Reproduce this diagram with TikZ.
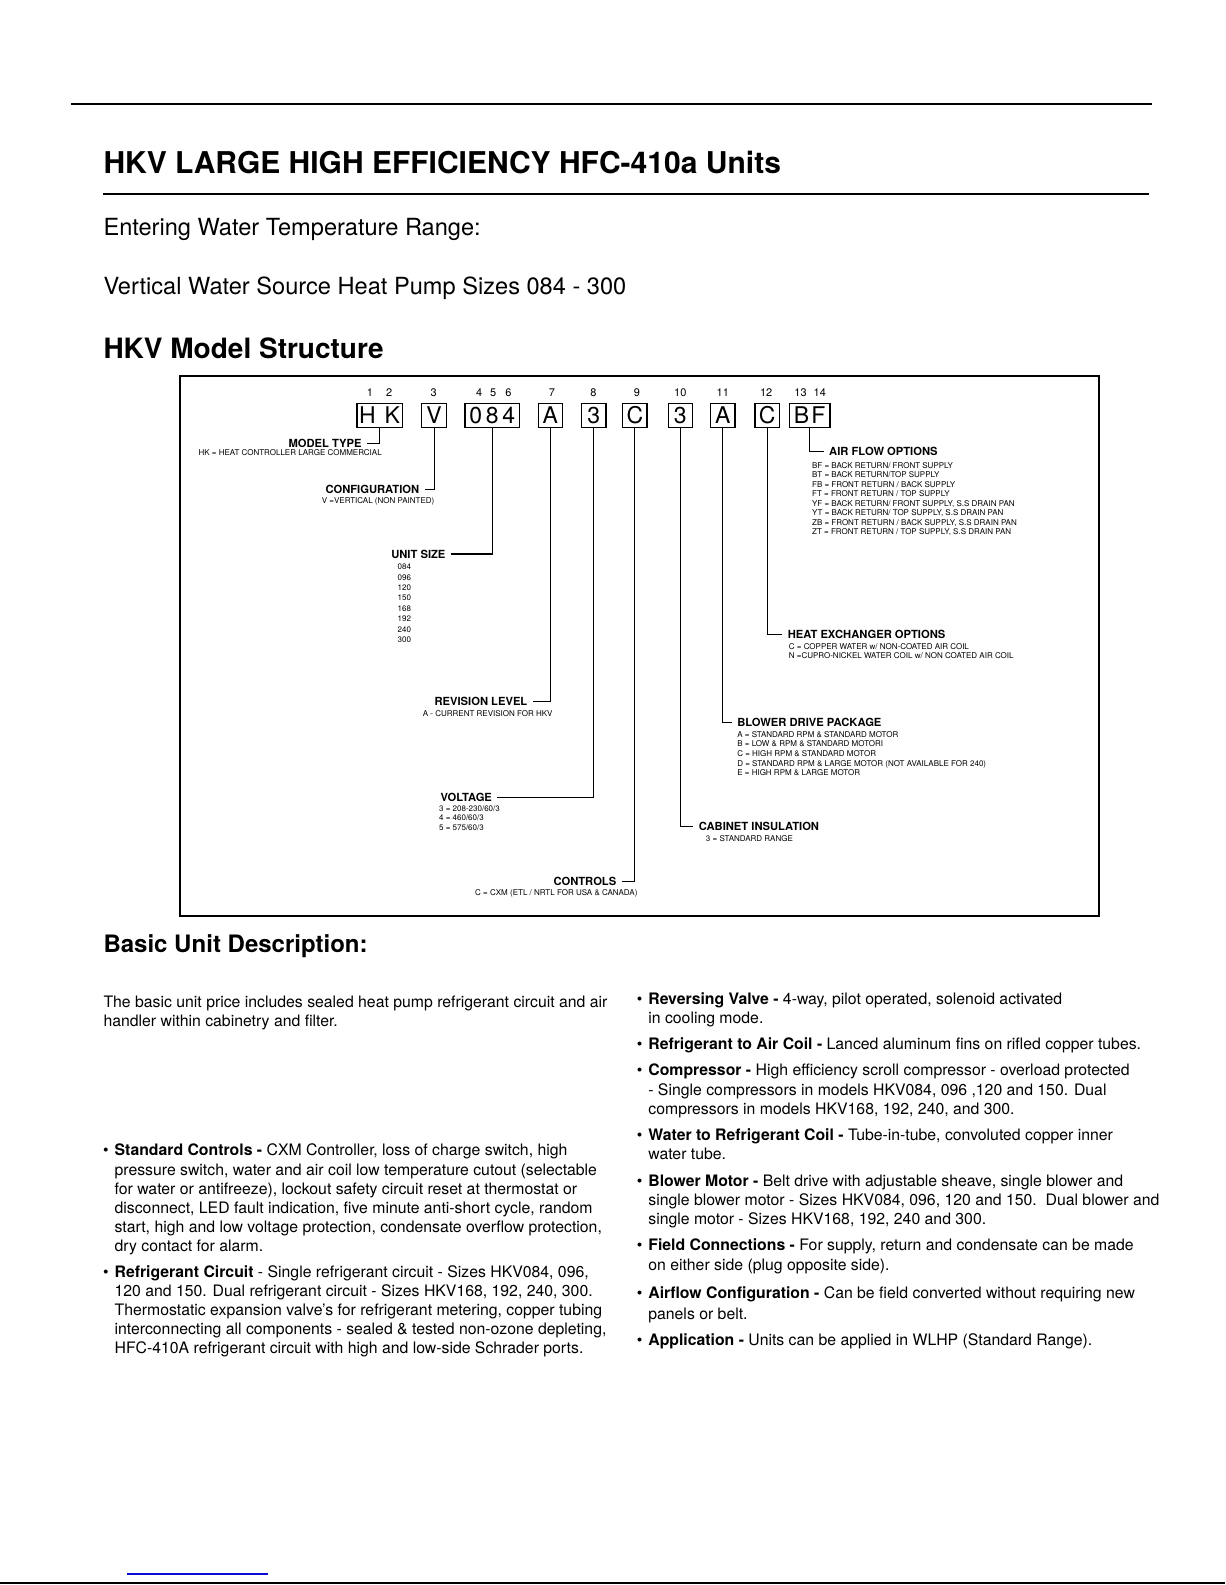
\documentclass[tikz,border=0pt]{standalone}
\usepackage{fontspec}
\setmainfont{TeX Gyre Heros}
\usepackage{graphicx}
\usepackage{xcolor}
\usepackage{tikz}
\definecolor{linkblue}{RGB}{10,10,210}
\newcommand{\fsz}[2]{\fontsize{#1}{#2}\selectfont}
\newcommand{\bulletmark}{\llap{\textbullet\hspace{3pt}}}
\newcommand{\kgap}{\hspace{1.8pt}}

\begin{document}
\begin{tikzpicture}[x=0.50536pt,y=-0.50536pt]
\tikzstyle{every node}=[inner sep=0pt]
\tikzstyle{codebox}=[draw,line width=0.7pt,minimum width=12.1pt,minimum height=12.1pt,text height=8.3pt,text depth=0pt,font=\fsz{11.5}{13}]
\tikzstyle{posnum}=[font=\fsz{5.5}{6},text height=4pt,text depth=0pt]
\tikzstyle{lbl}=[font=\bfseries\fsz{5.6}{6},inner xsep=2.5pt]
\tikzstyle{sub}=[font=\fsz{4}{4.8},align=left]
\tikzstyle{lead}=[line width=0.6pt]
\tikzstyle{body}=[font=\fsz{7.9}{9.6},align=left,anchor=north west]
\useasboundingbox (0,0) rectangle (1212,1568);

% page head
\draw[line width=1.2pt] (70,103) -- (1140,103);
\node[anchor=base west,font=\bfseries\fsz{15}{18}] (title) at (102,172) {HKV LARGE HIGH EFFICIENCY HFC-410a Units};
\draw[line width=0.8pt] (102,192) -- (1137,192);
\node[anchor=base west,font=\fsz{11.8}{14}] (ewt) at (102,233) {Entering Water Temperature Range:};
\node[anchor=base west,font=\fsz{11.8}{14}] (sizes) at (102,291) {Vertical Water Source Heat Pump Sizes 084 - 300};
\node[anchor=base west,font=\bfseries\fsz{14}{17}] (mshead) at (102,355) {HKV Model Structure};

% model number frame
\draw[line width=1pt] (178,372) rectangle (1087,906);
\node[posnum] (n1) at (366,388) {1}; \node[posnum] (n2) at (385,388) {2};
\node[posnum] (n3) at (429,388) {3};
\node[posnum] (n4) at (474,388) {4}; \node[posnum] (n5) at (488,388) {5}; \node[posnum] (n6) at (503,388) {6};
\node[posnum] (n7) at (546,388) {7}; \node[posnum] (n8) at (587,388) {8};
\node[posnum] (n9) at (630,388) {9}; \node[posnum] (n10) at (673,388) {10};
\node[posnum] (n11) at (715,388) {11}; \node[posnum] (n12) at (758,388) {12};
\node[posnum] (n13) at (792,388) {13}; \node[posnum] (n14) at (811,388) {14};

\node[codebox,minimum width=22.7pt] (hk) at (375.5,411) {H\hspace{4.5pt}K};
\node[codebox,minimum width=12.6pt] (cfg) at (429.5,411) {V};
\node[codebox,minimum width=27.3pt] (usize) at (487,411) {0\kgap 8\kgap 4};
\node[codebox] (rev) at (544.5,411) {A};
\node[codebox] (volt) at (587.5,411) {3};
\node[codebox] (ctrl) at (628,411) {C};
\node[codebox] (cab) at (673,411) {3};
\node[codebox] (blow) at (715,411) {A};
\node[codebox] (hx) at (759,411) {C};
\node[codebox,minimum width=20.2pt] (air) at (801,411) {B\hspace{1.1pt}F};

% left hand labels
\node[lbl,anchor=east] (mtype) at (363,439) {MODEL TYPE};
\node[sub,anchor=base east] (mtypesub) at (378,451) {HK = HEAT CONTROLLER LARGE COMMERCIAL};
\node[lbl,anchor=east] (config) at (420,484) {CONFIGURATION};
\node[sub,anchor=base west] (configsub) at (318,498) {V =VERTICAL (NON PAINTED)};
\node[lbl,anchor=east] (unitsz) at (446,548) {UNIT SIZE};
\node[sub,font=\fsz{4}{5.2},anchor=north west] (unitszsub) at (393,556) {\strut 084\\096\\120\\150\\168\\192\\240\\300};
\node[lbl,anchor=east] (revlvl) at (527,694) {REVISION LEVEL};
\node[sub,anchor=base west] (revlvlsub) at (418,709) {A - CURRENT REVISION FOR HKV};
\node[lbl,anchor=east] (voltage) at (492,789) {VOLTAGE};
\node[sub,anchor=north west] (voltagesub) at (434,795.3) {\strut 3 = 208-230/60/3\\4 = 460/60/3\\5 = 575/60/3};
\node[lbl,anchor=east] (controls) at (615,872) {CONTROLS};
\node[sub,anchor=base east] (controlssub) at (631,886) {C = CXM (ETL / NRTL FOR USA \& CANADA)};

% right hand labels
\node[lbl,anchor=west] (cabins) at (686,817.5) {CABINET INSULATION};
\node[sub,anchor=base west] (cabinssub) at (698,832) {3 = STANDARD RANGE};
\node[lbl,anchor=west] (blower) at (724,715) {BLOWER DRIVE PACKAGE};
\node[sub,anchor=north west] (blowersub) at (729,722.3) {\strut A = STANDARD RPM \& STANDARD MOTOR\\B = LOW \& RPM \& STANDARD MOTORI\\C = HIGH RPM \& STANDARD MOTOR\\D = STANDARD RPM \& LARGE MOTOR (NOT AVAILABLE FOR 240)\\E = HIGH RPM \& LARGE MOTOR};
\node[lbl,anchor=west] (heatx) at (774,628) {HEAT EXCHANGER OPTIONS};
\node[sub,anchor=north west] (heatxsub) at (780,635.3) {\strut C = COPPER WATER w/ NON-COATED AIR COIL\\N =CUPRO-NICKEL WATER COIL w/ NON COATED AIR COIL};
\node[lbl,anchor=west] (airflow) at (815,447) {AIR FLOW OPTIONS};
\node[sub,font=\fsz{4}{4.75},anchor=north west] (airflowsub) at (803,456.3) {\strut BF = BACK RETURN/ FRONT SUPPLY\\BT = BACK RETURN/TOP SUPPLY\\FB = FRONT RETURN / BACK SUPPLY\\FT = FRONT RETURN / TOP SUPPLY\\YF = BACK RETURN/ FRONT SUPPLY, S.S DRAIN PAN\\YT = BACK RETURN/ TOP SUPPLY, S.S DRAIN PAN\\ZB = FRONT RETURN / BACK SUPPLY, S.S DRAIN PAN\\ZT = FRONT RETURN / TOP SUPPLY, S.S DRAIN PAN};

% leaders
\draw[lead] (hk.south) |- (mtype.east);
\draw[lead] (cfg.south) |- (config.east);
\draw[lead] (usize.south) |- (unitsz.east);
\draw[lead] (rev.south) |- (revlvl.east);
\draw[lead] (volt.south) |- (voltage.east);
\draw[lead] (ctrl.south) |- (controls.east);
\draw[lead] (cab.south) |- (cabins.west);
\draw[lead] (blow.south) |- (blower.west);
\draw[lead] (hx.south) |- (heatx.west);
\draw[lead] (air.south) |- (airflow.west);

% description
\node[anchor=base west,font=\bfseries\fsz{12}{14}] (bud) at (102,942) {Basic Unit Description:};
\node[body] (intro) at (102,982.7) {\strut The basic unit price includes sealed heat pump refrigerant circuit and air\\handler within cabinetry and filter.};
\node[body] (stdctl) at (113,1129.7) {\strut\bulletmark\textbf{Standard Controls -} CXM Controller, loss of charge switch, high\\
pressure switch, water and air coil low temperature cutout (selectable\\
for water or antifreeze), lockout safety circuit reset at thermostat or\\
disconnect, LED fault indication, five minute anti-short cycle, random\\
start, high and low voltage protection, condensate overflow protection,\\
dry contact for alarm.};
\node[body] (refcirc) at (113,1249.7) {\strut\bulletmark\textbf{Refrigerant Circuit} - Single refrigerant circuit - Sizes HKV084, 096,\\
120 and 150. Dual refrigerant circuit - Sizes HKV168, 192, 240, 300.\\
Thermostatic expansion valve’s for refrigerant metering, copper tubing\\
interconnecting all components - sealed \& tested non-ozone depleting,\\
HFC-410A refrigerant circuit with high and low-side Schrader ports.};
\node[body] (revvalve) at (641,979.7) {\strut\bulletmark\textbf{Reversing Valve -} 4-way, pilot operated, solenoid activated\\in cooling mode.};
\node[body] (aircoil) at (641,1024.7) {\strut\bulletmark\textbf{Refrigerant to Air Coil -} Lanced aluminum fins on rifled copper tubes.};
\node[body] (comp) at (641,1050.7) {\strut\bulletmark\textbf{Compressor -} High efficiency scroll compressor - overload protected\\
- Single compressors in models HKV084, 096 ,120 and 150. Dual\\
compressors in models HKV168, 192, 240, and 300.};
\node[body] (watcoil) at (641,1114.7) {\strut\bulletmark\textbf{Water to Refrigerant Coil -} Tube-in-tube, convoluted copper inner\\water tube.};
\node[body] (blmotor) at (641,1159.7) {\strut\bulletmark\textbf{Blower Motor -} Belt drive with adjustable sheave, single blower and\\
single blower motor - Sizes HKV084, 096, 120 and 150.\ \ Dual blower and\\
single motor - Sizes HKV168, 192, 240 and 300.};
\node[body] (fieldconn) at (641,1223.7) {\strut\bulletmark\textbf{Field Connections -} For supply, return and condensate can be made\\on either side (plug opposite side).};
\node[body,font=\fsz{7.9}{10.6}] (aflow) at (641,1269.7) {\strut\bulletmark\textbf{Airflow Configuration -} Can be field converted without requiring new\\panels or belt.};
\node[body] (appl) at (641,1317.7) {\strut\bulletmark\textbf{Application -} Units can be applied in WLHP (Standard Range).};

% page foot
\draw[linkblue,line width=0.8pt] (126,1557) -- (265,1557);
\draw[line width=1.2pt] (0,1566) -- (1212,1566);
\end{tikzpicture}
\end{document}
